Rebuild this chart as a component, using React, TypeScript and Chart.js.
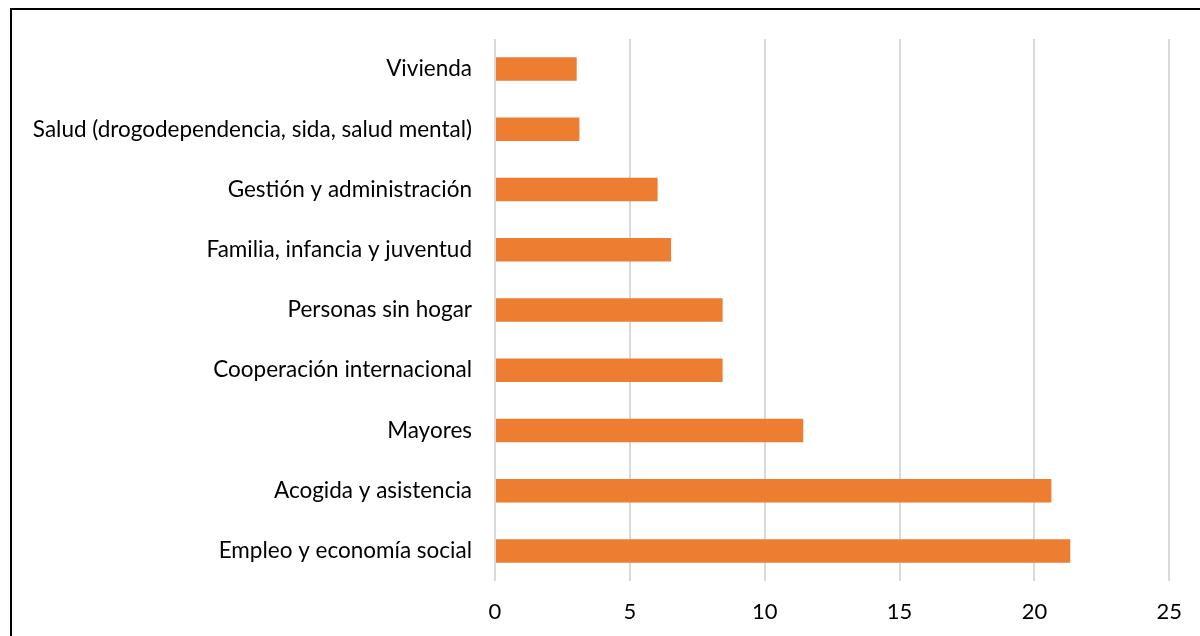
import React, { useEffect, useRef } from "react";
import { Chart, registerables } from "chart.js";

Chart.register(...registerables);

const categories: string[] = [
  "Vivienda",
  "Salud (drogodependencia, sida, salud mental)",
  "Gestión y administración",
  "Familia, infancia y juventud",
  "Personas sin hogar",
  "Cooperación internacional",
  "Mayores",
  "Acogida y asistencia",
  "Empleo y economía social",
];

const values: number[] = [3.03, 3.13, 6.03, 6.53, 8.44, 8.44, 11.43, 20.63, 21.33];

const xMin = 0;
const xMax = 25;
const xStep = 5;

const FONT = "Lato, 'Open Sans', sans-serif";

export default function App() {
  const canvasRef = useRef<HTMLCanvasElement | null>(null);

  useEffect(() => {
    const canvas = canvasRef.current;
    if (!canvas) return;
    const chart = new Chart(canvas, {
      type: "bar",
      data: {
        labels: categories,
        datasets: [
          {
            data: values,
            backgroundColor: "#ED7D31",
            borderWidth: 0,
            categoryPercentage: 1,
            barPercentage: 0.39,
          },
        ],
      },
      options: {
        indexAxis: "y",
        responsive: false,
        animation: false,
        maintainAspectRatio: false,
        layout: { padding: { top: 39, right: 28, left: 0, bottom: 0 } },
        plugins: {
          legend: { display: false },
          tooltip: { enabled: false },
        },
        scales: {
          x: {
            min: xMin,
            max: xMax,
            ticks: {
              stepSize: xStep,
              color: "#000",
              padding: 18,
              font: { family: FONT, size: 22 },
            },
            grid: { color: "#D9D9D9", lineWidth: 2, drawTicks: false },
            border: { display: false },
            afterFit: (scale: any) => {
              scale.height = 55;
            },
          },
          y: {
            ticks: {
              color: "#000",
              padding: 23,
              font: { family: FONT, size: 22.5 },
            },
            grid: { display: false, drawTicks: false },
            border: { display: false },
            afterFit: (scale: any) => {
              scale.width = 495;
            },
          },
        },
      },
    });
    return () => chart.destroy();
  }, []);

  return (
    <div
      style={{
        position: "fixed",
        left: 0,
        top: 0,
        width: 1200,
        height: 636,
        overflow: "hidden",
        background: "#fff",
      }}
    >
      <canvas
        ref={canvasRef}
        width={1200}
        height={636}
        style={{ position: "absolute", left: 0, top: 0, width: 1200, height: 636 }}
      />
      <div
        style={{
          position: "absolute",
          left: 10,
          top: 8,
          width: 1400,
          height: 800,
          borderLeft: "2px solid #000",
          borderTop: "2px solid #000",
          pointerEvents: "none",
        }}
      />
    </div>
  );
}
